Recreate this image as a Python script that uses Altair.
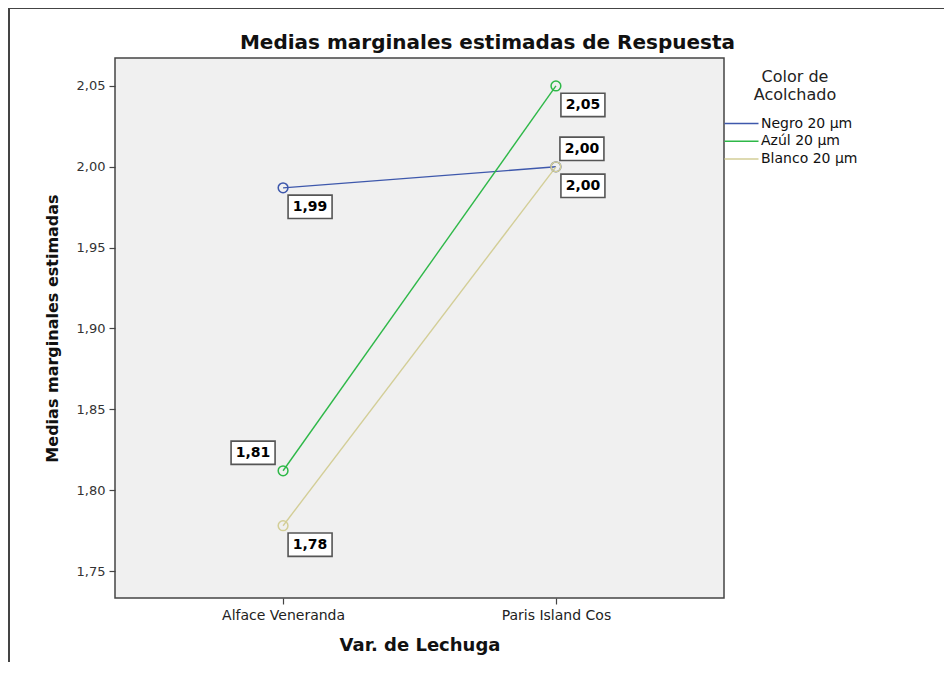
import altair as alt
import pandas as pd

categories = ["Alface Veneranda", "Paris Island Cos"]
series = ["Negro 20 µm", "Azúl 20 µm", "Blanco 20 µm"]
negro = [1.987, 2.000]
azul = [1.812, 2.050]
blanco = [1.778, 2.000]
colors = ["#3E58AC", "#2EB848", "#D3CE97"]
chart_title = "Medias marginales estimadas de Respuesta"

rows = []
for s, vals in zip(series, [negro, azul, blanco]):
    for c, v in zip(categories, vals):
        rows.append({"var": c, "color": s, "value": v})
df = pd.DataFrame(rows)
title_df = pd.DataFrame({"t": [chart_title]})

FONT = "DejaVu Sans"
W, H = 609, 540

x_enc = alt.X("var:N", scale=alt.Scale(type="point", padding=0.616, domain=categories),
              sort=categories,
              axis=alt.Axis(title="Var. de Lechuga", labelAngle=0, domain=False,
                            tickSize=6, tickColor="#444", tickWidth=1.2,
                            labelFont=FONT, labelFontSize=14, labelColor="#222",
                            labelPadding=4, titleFont=FONT, titleFontSize=18,
                            titleFontWeight="bold", titleColor="#111", titlePadding=14))
y_enc = alt.Y("value:Q", scale=alt.Scale(domain=[1.7333, 2.0673], nice=False, zero=False),
              axis=alt.Axis(title="Medias marginales estimadas", values=[1.75, 1.80, 1.85, 1.90, 1.95, 2.00, 2.05],
                            labelExpr="replace(format(datum.value, '.2f'), '.', ',')",
                            domain=False, grid=False, tickSize=6, tickColor="#444", tickWidth=1.2,
                            labelFont=FONT, labelFontSize=13, labelColor="#333", labelPadding=4,
                            titleFont=FONT, titleFontSize=16, titleFontWeight="bold",
                            titleColor="#111", titlePadding=16))
color_enc = alt.Color("color:N", scale=alt.Scale(domain=series, range=colors),
                      sort=series,
                      legend=alt.Legend(title=["Color de", "Acolchado"], orient="none",
                                        legendX=617, legendY=11,
                                        titleFont=FONT, titleFontSize=16, titleFontWeight="normal",
                                        titleColor="#222", titleAnchor="middle", titleAlign="center",
                                        titleLineHeight=18, titlePadding=11,
                                        labelFont=FONT, labelFontSize=14, labelColor="#111",
                                        labelOffset=10, symbolType="M-2,0L2,0", symbolSize=289,
                                        symbolStrokeWidth=1.5, rowPadding=0.7))

base = alt.Chart(df)

frame_left = base.mark_rule(stroke="#444", strokeWidth=2).encode(
    x=alt.value(-106), y=alt.value(-50), y2=alt.value(H + 200)
)
frame_top = base.mark_rule(stroke="#444", strokeWidth=2).encode(
    x=alt.value(-106), x2=alt.value(W + 400), y=alt.value(-50)
)

title_mark = alt.Chart(title_df).mark_text(
    font=FONT, fontSize=20, fontWeight="bold", color="#111",
    align="center", baseline="alphabetic"
).encode(text="t:N", x=alt.value(W / 2 + 68), y=alt.value(-9))

lines = base.mark_line(strokeWidth=1.4).encode(x=x_enc, y=y_enc, color=color_enc)
points = base.mark_point(filled=False, size=95, strokeWidth=1.5, opacity=1).encode(
    x=alt.X("var:N"), y=alt.Y("value:Q"), color=alt.Color("color:N"))

labeled = base.transform_calculate(
    label="replace(format(datum.value, '.2f'), '.', ',')"
)

box_shape = "M-1,-0.53L1,-0.53L1,0.53L-1,0.53Z"

def label_layer(cond, dx, dy):
    src = labeled.transform_filter(cond)
    box = src.mark_point(shape=box_shape, size=1936, filled=True, fill="white",
                         stroke="#555", strokeWidth=1.6, opacity=1,
                         xOffset=dx, yOffset=dy).encode(x=alt.X("var:N"), y=alt.Y("value:Q"))
    txt = src.mark_text(font=FONT, fontSize=14, fontWeight="bold", color="#000",
                        dx=dx, dy=dy, baseline="middle", align="center").encode(
        x=alt.X("var:N"), y=alt.Y("value:Q"), text="label:N")
    return box + txt

above_left = "datum.color === 'Azúl 20 µm' && datum.var === 'Alface Veneranda'"
above_right = "datum.color === 'Negro 20 µm' && datum.var === 'Paris Island Cos'"
below_right = "!(" + above_left + ") && !(" + above_right + ")"

chart = alt.layer(
    frame_left,
    frame_top,
    title_mark,
    lines,
    points,
    label_layer(below_right, 27, 19),
    label_layer(above_left, -30, -18),
    label_layer(above_right, 26, -18),
).properties(
    width=W, height=H,
    autosize=alt.AutoSizeParams(type="none"),
    padding={"left": 107, "top": 50, "right": 220, "bottom": 64},
).configure(
    background="white",
    view=alt.ViewConfig(fill="#F0F0F0", stroke="#444", strokeWidth=1.5),
)

chart.save("out.html", embed_options={"renderer": "svg", "actions": False})
